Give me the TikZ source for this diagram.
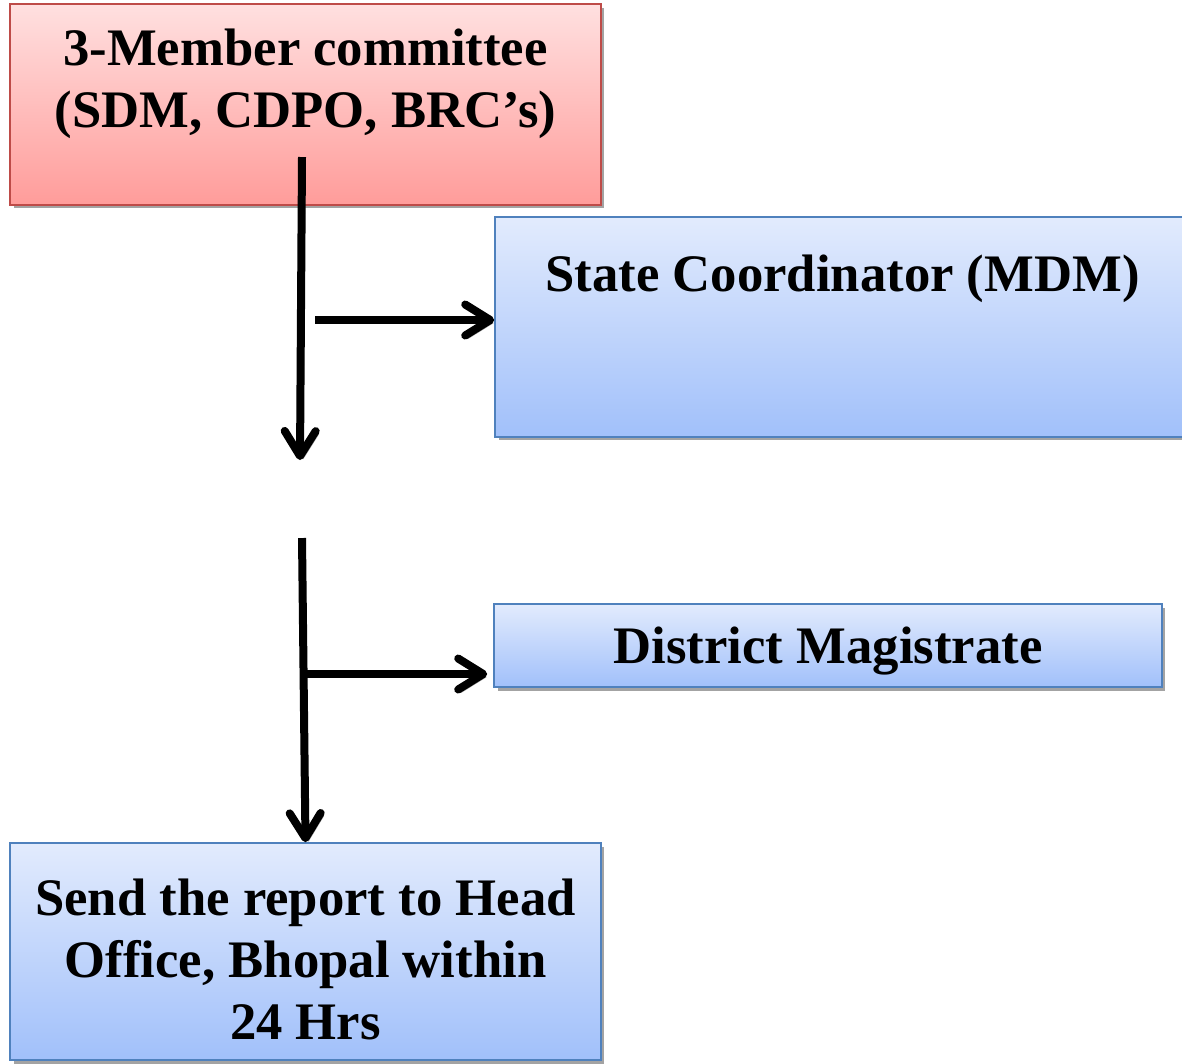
\documentclass[tikz,border=0pt]{standalone}
\usepackage{fontspec}
\setmainfont{Liberation Serif}
\usetikzlibrary{arrows.meta,shadows,positioning}

\definecolor{redline}{RGB}{190,75,72}
\definecolor{redtop}{RGB}{255,224,224}
\definecolor{redbottom}{RGB}{255,156,154}
\definecolor{blueline}{RGB}{79,129,189}
\definecolor{bluetop}{RGB}{226,235,253}
\definecolor{bluebottom}{RGB}{161,192,250}

\begin{document}
\begin{tikzpicture}[x=0.02cm,y=-0.02cm]

    \tikzset{
      box/.style={
        line width=1pt,
        inner sep=0pt,
        drop shadow={shadow xshift=0.07cm,shadow yshift=-0.07cm,fill=black!45,opacity=0.8},
      },
      redbox/.style={box,draw=redline,top color=redtop,bottom color=redbottom},
      bluebox/.style={box,draw=blueline,top color=bluetop,bottom color=bluebottom},
      txt/.style={
        font=\fontsize{30}{35.3}\selectfont\bfseries,
        align=center,
      },
      flow/.style={
        line width=0.16cm,
        -{Straight Barb[length=0.5cm,width=0.62cm,round]},
        preaction={draw=black!35,transform canvas={shift={(0.06cm,-0.06cm)}}},
      },
    }
    \useasboundingbox (0,0) rectangle (1182,1063);

    \node[redbox,minimum width=11.82cm,minimum height=4.02cm] (committee) at (305.5,104.5) {};
    \node[txt,below=0.39cm of committee.north] (committeetext) {3-Member committee\\(SDM, CDPO, BRC's)};

    \node[bluebox,minimum width=13.9cm,minimum height=4.4cm] (state) at (842.5,327) {};
    \node[txt,below=0.65cm of state.north] (statetext) {State Coordinator (MDM)};

    \node[bluebox,minimum width=13.36cm,minimum height=1.66cm] (magistrate) at (828,645.5) {};
    \node[txt,below=0.36cm of magistrate.north] (magistratetext) {District Magistrate};

    \node[bluebox,minimum width=11.82cm,minimum height=4.34cm] (report) at (305.5,951.5) {};
    \node[txt,below=0.62cm of report.north] (reporttext) {Send the report to Head\\Office, Bhopal within\\24 Hrs};

    \coordinate (down1) at (302,157);
    \coordinate (gap1) at (300,460);
    \coordinate (side1) at (315,320);
    \coordinate (down2) at (302,538);
    \coordinate (side2) at (307,674);

    \draw[flow] (down1) -- (gap1);
    \draw[flow] (side1) -- (side1 -| state.west);
    \draw[flow] (down2) -- (report.north);
    \draw[flow] (side2) -- ([xshift=-0.12cm]side2 -| magistrate.west);

\end{tikzpicture}
\end{document}
